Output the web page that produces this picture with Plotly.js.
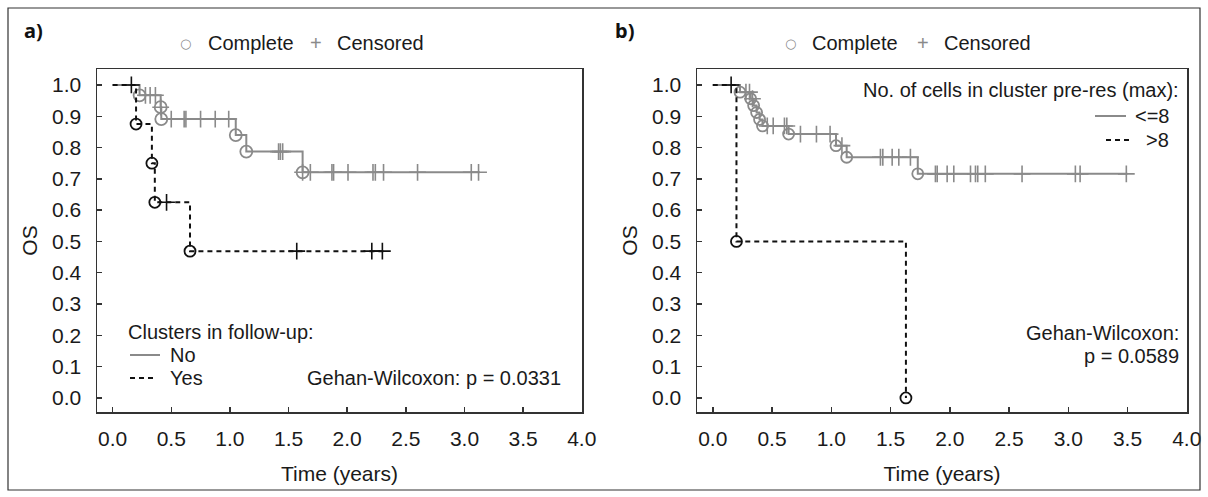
<!DOCTYPE html>
<html><head><meta charset="utf-8">
<script src="https://cdn.plot.ly/plotly-3.0.1.min.js"></script>
<style>html,body{margin:0;padding:0;background:#fff}</style>
</head><body><div id="chart" style="width:1208px;height:497px"></div>
<script>
// ---------- Panel a: Clusters in follow-up ----------
const a_no_time = [0, 0.23, 0.41, 0.415, 1.05, 1.14, 1.62, 3.13];
const a_no_surv = [1.0, 0.967, 0.929, 0.891, 0.840, 0.787, 0.721, 0.721];
const a_no_evt_time = [0.23, 0.41, 0.415, 1.05, 1.14, 1.62];
const a_no_evt_surv = [0.967, 0.929, 0.891, 0.840, 0.787, 0.721];
const a_no_cens_time = [0.28, 0.32, 0.365, 0.41, 0.50, 0.61, 0.625, 0.75, 0.875, 0.99, 1.415, 1.43, 1.45,
  1.62, 1.686, 1.87, 1.884, 2.007, 2.22, 2.24, 2.31, 2.60, 3.058, 3.12];
const a_no_cens_surv = [0.967, 0.967, 0.967, 0.929, 0.891, 0.891, 0.891, 0.891, 0.891, 0.891, 0.787, 0.787, 0.787,
  0.721, 0.721, 0.721, 0.721, 0.721, 0.721, 0.721, 0.721, 0.721, 0.721, 0.721];

const a_yes_time = [0, 0.20, 0.335, 0.36, 0.66, 2.32];
const a_yes_surv = [1.0, 0.875, 0.75, 0.625, 0.469, 0.469];
const a_yes_evt_time = [0.20, 0.335, 0.36, 0.66];
const a_yes_evt_surv = [0.875, 0.75, 0.625, 0.469];
const a_yes_cens_time = [0.16, 0.46, 1.57, 2.21, 2.30];
const a_yes_cens_surv = [1.0, 0.625, 0.469, 0.469, 0.469];

// ---------- Panel b: No. of cells in cluster pre-res (max) ----------
const b_le_time = [0, 0.23, 0.32, 0.345, 0.37, 0.395, 0.42, 0.64, 1.04, 1.13, 1.73, 3.50];
const b_le_surv = [1.0, 0.977, 0.956, 0.934, 0.912, 0.890, 0.869, 0.843, 0.806, 0.769, 0.716, 0.716];
const b_le_evt_time = [0.23, 0.32, 0.345, 0.37, 0.395, 0.42, 0.64, 1.04, 1.13, 1.73];
const b_le_evt_surv = [0.977, 0.956, 0.934, 0.912, 0.890, 0.869, 0.843, 0.806, 0.769, 0.716];
const b_le_cens_time = [0.28, 0.31, 0.335, 0.46, 0.51, 0.605, 0.625, 0.74, 0.875, 0.99, 1.09,
  1.415, 1.435, 1.514, 1.57, 1.668,
  1.879, 1.894, 1.978, 2.034, 2.175, 2.217, 2.236, 2.30, 2.61, 3.06, 3.10, 3.49];
const b_le_cens_surv = [0.977, 0.977, 0.956, 0.869, 0.869, 0.869, 0.869, 0.843, 0.843, 0.843, 0.806,
  0.769, 0.769, 0.769, 0.769, 0.769,
  0.716, 0.716, 0.716, 0.716, 0.716, 0.716, 0.716, 0.716, 0.716, 0.716, 0.716, 0.716];

const b_gt_time = [0, 0.20, 1.63];
const b_gt_surv = [1.0, 0.5, 0.0];
const b_gt_evt_time = [0.20, 1.63];
const b_gt_evt_surv = [0.5, 0.0];
const b_gt_cens_time = [0.155];
const b_gt_cens_surv = [1.0];

const xTickVals = [0, 0.5, 1, 1.5, 2, 2.5, 3, 3.5, 4];
const xTickText = ['0.0','0.5','1.0','1.5','2.0','2.5','3.0','3.5','4.0'];
const yTickVals = [0,0.1,0.2,0.3,0.4,0.5,0.6,0.7,0.8,0.9,1.0];
const yTickText = ['0.0','0.1','0.2','0.3','0.4','0.5','0.6','0.7','0.8','0.9','1.0'];

// ---------- styling ----------
const GRAY = '#8a8a8a', BLACK = '#111111';
const FONT = 'Liberation Sans, Arial, sans-serif';
const W = 1208, H = 497;
const X = px => px / W, Y = py => 1 - py / H;

function group(xa, ya, t, s, et, es, ct, cs, color, dash, msize, csize) {
  return [
    {x: t, y: s, xaxis: xa, yaxis: ya, type: 'scatter', mode: 'lines', line: {shape: 'hv', color: color, width: 2, dash: dash}, showlegend: false, hoverinfo: 'skip'},
    {x: et, y: es, xaxis: xa, yaxis: ya, type: 'scatter', mode: 'markers', marker: {symbol: 'circle-open', size: msize, color: color, line: {width: 1.8, color: color}}, showlegend: false},
    {x: ct, y: cs, xaxis: xa, yaxis: ya, type: 'scatter', mode: 'markers', marker: {symbol: 'cross-thin-open', size: csize, color: color, line: {width: 1.6, color: color}}, showlegend: false}
  ];
}

const traces = [].concat(
  group('x', 'y', a_no_time, a_no_surv, a_no_evt_time, a_no_evt_surv, a_no_cens_time, a_no_cens_surv, GRAY, 'solid', 12, 12),
  group('x', 'y', a_yes_time, a_yes_surv, a_yes_evt_time, a_yes_evt_surv, a_yes_cens_time, a_yes_cens_surv, BLACK, '5px,4px', 11, 12),
  group('x2', 'y2', b_le_time, b_le_surv, b_le_evt_time, b_le_evt_surv, b_le_cens_time, b_le_cens_surv, GRAY, 'solid', 11, 12),
  group('x2', 'y2', b_gt_time, b_gt_surv, b_gt_evt_time, b_gt_evt_surv, b_gt_cens_time, b_gt_cens_surv, BLACK, '5px,4px', 11, 12)
);

function xax(domain, anchor) {
  return {domain: domain, anchor: anchor, range: [-0.133, 4.002], tickvals: xTickVals, ticktext: xTickText,
    ticks: 'inside', ticklen: 5, tickwidth: 1.5, tickcolor: '#333', showline: true, mirror: true, linecolor: '#333', linewidth: 1.5,
    showgrid: false, zeroline: false, tickfont: {family: FONT, size: 21, color: '#1a1a1a'}, ticklabelstandoff: 7,
    title: {text: 'Time (years)', font: {family: FONT, size: 21, color: '#1a1a1a'}, standoff: 17}};
}
function yax(anchor) {
  return {domain: [Y(412), Y(69)], anchor: anchor, range: [-0.045, 1.051], tickvals: yTickVals, ticktext: yTickText,
    ticks: 'inside', ticklen: 5, tickwidth: 1.5, tickcolor: '#333', showline: true, mirror: true, linecolor: '#333', linewidth: 1.5,
    showgrid: false, zeroline: false, tickfont: {family: FONT, size: 21, color: '#1a1a1a'}, ticklabelstandoff: 10,
    title: {text: 'OS', font: {family: FONT, size: 21, color: '#1a1a1a'}, standoff: 8}};
}

function ann(text, px, py, xanchor, opts) {
  return Object.assign({text: text, x: X(px), y: Y(py), xref: 'paper', yref: 'paper', xanchor: xanchor, yanchor: 'middle',
    showarrow: false, font: {family: FONT, size: 20, color: '#1a1a1a'}}, opts || {});
}

const F20 = {family: FONT, size: 20, color: '#1a1a1a'};
const annotations = [
  ann('<b>a)</b>', 22, 31, 'left', {font: {family: 'Noto Sans, sans-serif', size: 20, color: '#111'}}),
  ann('<b>b)</b>', 613, 31, 'left', {font: {family: 'Noto Sans, sans-serif', size: 20, color: '#111'}}),
  // header legends
  ann('○', 185, 43, 'center', {font: {family: 'DejaVu Sans', size: 13, color: GRAY}}),
  ann('Complete', 206, 43, 'left', {font: F20}),
  ann('+', 316, 43, 'center', {font: {family: FONT, size: 20, color: GRAY}}),
  ann('Censored', 335, 43, 'left', {font: F20}),
  ann('○', 790, 43, 'center', {font: {family: 'DejaVu Sans', size: 13, color: GRAY}}),
  ann('Complete', 810, 43, 'left', {font: F20}),
  ann('+', 923, 43, 'center', {font: {family: FONT, size: 20, color: GRAY}}),
  ann('Censored', 942, 43, 'left', {font: F20}),
  // panel a legend
  ann('Clusters in follow-up:', 126, 332, 'left', {font: F20}),
  ann('No', 168, 355, 'left', {font: F20}),
  ann('Yes', 168, 378, 'left', {font: F20}),
  ann('Gehan-Wilcoxon: p = 0.0331', 563, 378, 'right', {font: F20}),
  // panel b legend
  ann('No. of cells in cluster pre-res (max):', 1181, 90, 'right', {font: F20}),
  ann('<=8', 1171, 116, 'right', {font: F20}),
  ann('>8', 1171, 140, 'right', {font: F20}),
  ann('Gehan-Wilcoxon:', 1181, 333, 'right', {font: F20}),
  ann('p = 0.0589', 1181, 356, 'right', {font: F20})
];

const shapes = [
  {type: 'rect', xref: 'paper', yref: 'paper', x0: X(8), x1: X(1200), y0: Y(490), y1: Y(8), line: {color: '#333', width: 1.2}},
  {type: 'line', xref: 'paper', yref: 'paper', x0: X(130), x1: X(160), y0: Y(355), y1: Y(355), line: {color: GRAY, width: 2}},
  {type: 'line', xref: 'paper', yref: 'paper', x0: X(130), x1: X(155), y0: Y(378), y1: Y(378), line: {color: BLACK, width: 2, dash: '5px,4px'}},
  {type: 'line', xref: 'paper', yref: 'paper', x0: X(1095), x1: X(1126), y0: Y(116), y1: Y(116), line: {color: GRAY, width: 2}},
  {type: 'line', xref: 'paper', yref: 'paper', x0: X(1106), x1: X(1131), y0: Y(140), y1: Y(140), line: {color: BLACK, width: 2, dash: '5px,4px'}}
];

const layout = {
  width: W, height: H, margin: {l: 0, r: 0, t: 0, b: 0}, paper_bgcolor: '#fff', plot_bgcolor: '#fff',
  showlegend: false,
  xaxis: xax([X(97), X(582)], 'y'),
  yaxis: yax('x'),
  xaxis2: xax([X(697), X(1187)], 'y2'),
  yaxis2: yax('x2'),
  annotations: annotations,
  shapes: shapes,
  font: {family: FONT}
};

Plotly.newPlot('chart', traces, layout, {staticPlot: true, displayModeBar: false});
</script>
</body></html>
